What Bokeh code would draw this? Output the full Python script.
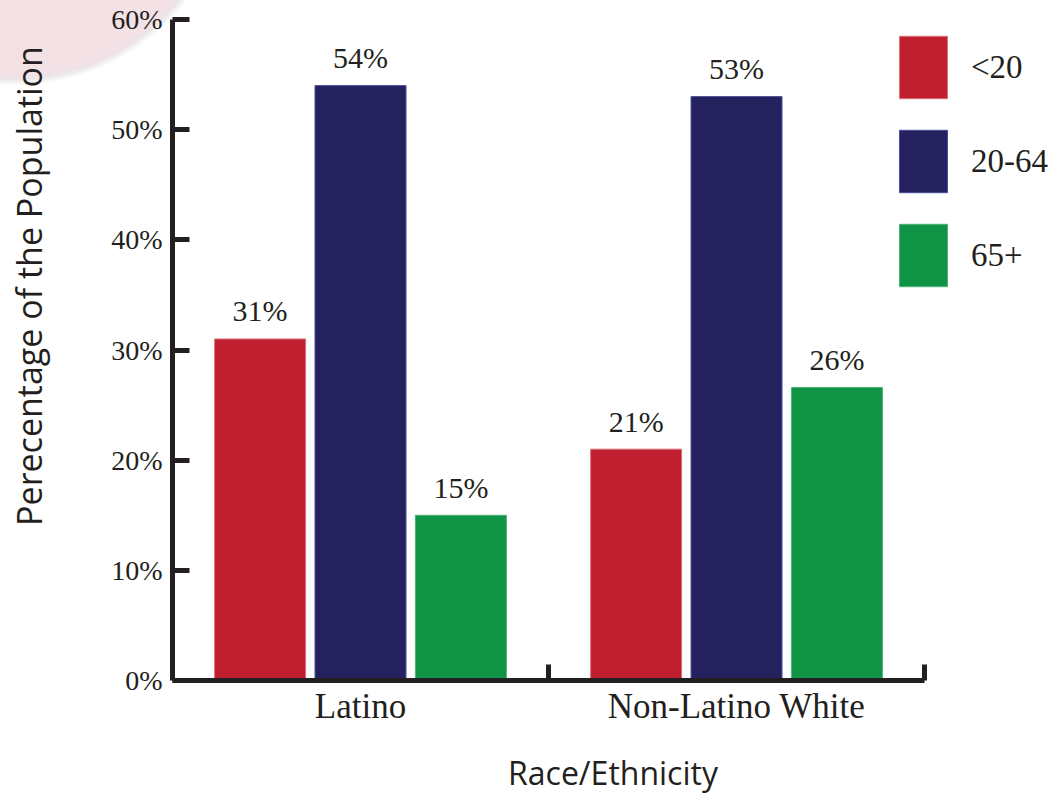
from bokeh.plotting import figure
from bokeh.layouts import row
from bokeh.models import ColumnDataSource, Range1d, FixedTicker, Legend, LegendItem, Div
from bokeh.transform import dodge
from bokeh.core.properties import value
from bokeh.embed import file_html
from bokeh.resources import INLINE

# ---- data ----
categories = ["Latino", "Non-Latino White"]
age_groups = ["<20", "20-64", "65+"]
under20 = [31, 21]
age20_64 = [54, 53]
age65 = [15, 26.6]
under20_labels = ["31%", "21%"]
age20_64_labels = ["54%", "53%"]
age65_labels = ["15%", "26%"]
y_ticks = [0, 10, 20, 30, 40, 50, 60]
y_title = "Perecentage of the Population"
x_title = "Race/Ethnicity"

colors = ["#c01f2f", "#25215f", "#0e9444"]
edge_colors = ["#d9707a", "#4a4f9c", "#4fb07a"]
AXIS = "#231f20"
SERIF = "Liberation Serif"
SANS = "Open Sans"

xpos = [i + 0.5 for i in range(len(categories))]
src = ColumnDataSource(dict(
    x=xpos, cat=categories,
    u20=under20, a2064=age20_64, a65=age65,
    u20_lbl=under20_labels, a2064_lbl=age20_64_labels, a65_lbl=age65_labels,
))

H = 797

# ---- y-axis title as a rotated text block on the left ----
title_div = Div(
    text=(f'<div style="position:absolute;left:29px;top:286px;'
          f'transform:translate(-50%,-50%) rotate(-90deg);white-space:nowrap;'
          f"font-family:'{SANS}';font-size:34px;line-height:1;color:{AXIS};\">"
          f'{y_title}</div>'),
    width=62, height=H, margin=0,
    styles={"position": "relative", "overflow": "visible"})

# ---- main chart ----
p = figure(width=991, height=H, output_backend="svg", toolbar_location=None,
           x_range=Range1d(0, 2.343), y_range=Range1d(0, 60),
           min_border_left=110, min_border_right=0, min_border_top=19,
           min_border_bottom=117, margin=0)
p.outline_line_color = None
p.xgrid.visible = False
p.ygrid.visible = False
p.background_fill_color = "white"
p.border_fill_color = None

offsets = [-0.267, 0.0, 0.267]
width = 0.242
cols = ["u20", "a2064", "a65"]
renderers = []
for col, off, c, ec in zip(cols, offsets, colors, edge_colors):
    r = p.vbar(x=dodge("x", off, range=p.x_range), top=col, width=width, source=src,
               fill_color=c, line_color=ec, line_width=1)
    renderers.append(r)
    p.text(x=dodge("x", off, range=p.x_range), y=col, text=col + "_lbl", source=src,
           text_align="center", text_baseline="middle", y_offset=-28,
           text_font=value(SERIF), text_font_size="30px", text_color=AXIS)

# y axis
ya = p.yaxis[0]
ya.ticker = FixedTicker(ticks=y_ticks)
ya.major_label_overrides = {v: f"{v}%" for v in y_ticks}
ya.axis_line_width = 5
ya.axis_line_color = AXIS
ya.major_tick_in = 17
ya.major_tick_out = 0
ya.major_tick_line_width = 5
ya.major_tick_line_color = AXIS
ya.minor_tick_line_color = None
ya.major_label_text_font = SERIF
ya.major_label_text_font_size = "28px"
ya.major_label_text_color = AXIS
ya.major_label_standoff = 10

# x axis
xa = p.xaxis[0]
xa.bounds = (0, len(categories))
xa.ticker = FixedTicker(ticks=xpos, minor_ticks=[1, 2])
xa.major_label_overrides = {x: c for x, c in zip(xpos, categories)}
xa.axis_line_width = 5
xa.axis_line_color = AXIS
xa.major_tick_line_color = None
xa.major_tick_in = 0
xa.major_tick_out = 0
xa.minor_tick_in = 16
xa.minor_tick_out = 0
xa.minor_tick_line_width = 5
xa.minor_tick_line_color = AXIS
xa.major_label_text_font = SERIF
xa.major_label_text_font_size = "35px"
xa.major_label_text_color = AXIS
xa.major_label_standoff = 6
xa.axis_label = x_title
xa.axis_label_text_font = SANS
xa.axis_label_text_font_style = "normal"
xa.axis_label_text_font_size = "32px"
xa.axis_label_text_color = AXIS
xa.axis_label_standoff = 22

legend = Legend(items=[LegendItem(label=g, renderers=[r]) for g, r in zip(age_groups, renderers)],
                location=(721, 386), orientation="vertical",
                glyph_width=60, glyph_height=78, spacing=16, label_standoff=18,
                padding=0, margin=0, border_line_color=None, background_fill_alpha=0,
                label_text_font=SERIF, label_text_font_size="33px", label_text_color=AXIS)
p.add_layout(legend)

layout = row(title_div, p)
layout.styles = {
    "background": "radial-gradient(circle 210px at 15px -130px, #f4e1e6 0px, #f4e1e6 205px, "
                  "#ebe5e7 209px, #ffffff 216px)"
}

open("out.html", "w").write(file_html(layout, INLINE))
